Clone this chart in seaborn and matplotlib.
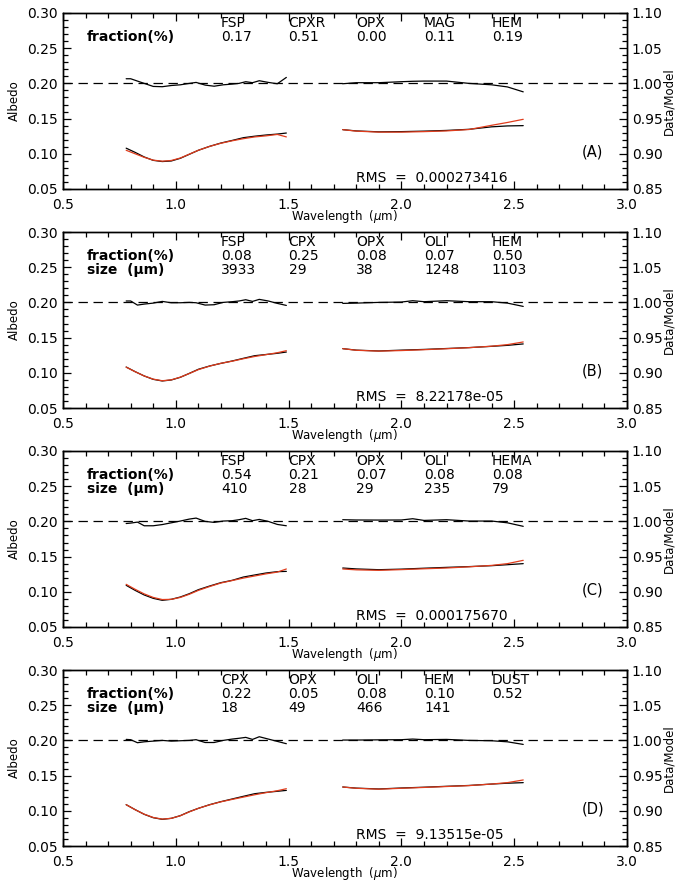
import pandas as pd
import seaborn as sns
import matplotlib.pyplot as plt
from matplotlib.ticker import MultipleLocator, FormatStrFormatter

# wavelength grids (um)
wl_vis = [0.78, 0.82, 0.86, 0.90, 0.94, 0.98, 1.02, 1.06, 1.10, 1.15,
          1.20, 1.25, 1.30, 1.35, 1.40, 1.45, 1.49]
wl_nir = [1.74, 1.80, 1.90, 2.00, 2.10, 2.20, 2.30, 2.40, 2.47, 2.54]
ratio_wl_vis = [0.78, 0.80, 0.83, 0.86, 0.90, 0.94, 0.98, 1.02, 1.06, 1.09, 1.13,
                1.17, 1.21, 1.25, 1.28, 1.31, 1.34, 1.37, 1.41, 1.45, 1.49]
ratio_wl_nir = [1.74, 1.80, 1.90, 2.00, 2.05, 2.10, 2.20, 2.30, 2.40, 2.47, 2.54]

# panel A
A_obs_vis = [0.108, 0.102, 0.0955, 0.0907, 0.089, 0.0898, 0.0936, 0.0993, 0.105, 0.1106,
             0.1153, 0.119, 0.1229, 0.125, 0.1267, 0.128, 0.1295]
A_mod_vis = [0.105, 0.100, 0.095, 0.091, 0.0895, 0.0905, 0.094, 0.0995, 0.105, 0.1105,
             0.115, 0.1185, 0.1215, 0.124, 0.1255, 0.1275, 0.124]
A_obs_nir = [0.1343, 0.1325, 0.1312, 0.1315, 0.1322, 0.1332, 0.1348, 0.1383, 0.1396, 0.1400]
A_mod_nir = [0.1343, 0.1322, 0.1308, 0.1308, 0.1315, 0.1325, 0.1345, 0.1405, 0.1445, 0.149]
A_ratio_vis = [1.0066, 1.0066, 1.0033, 1.0, 0.9957, 0.9953, 0.997, 0.998, 1.0, 1.0014, 0.9976,
               0.996, 0.998, 0.999, 1.0, 1.0024, 1.001, 1.0038, 1.0014, 0.9995, 1.0085]
A_ratio_nir = [0.9995, 1.001, 1.001, 1.0024, 1.003, 1.0033, 1.0033, 1.0, 0.998, 0.995, 0.988]

# panel B
B_obs_vis = [0.1082, 0.1016, 0.0955, 0.0907, 0.0884, 0.0898, 0.0936, 0.0992, 0.105, 0.1097,
             0.1134, 0.1168, 0.1206, 0.1243, 0.126, 0.1277, 0.1295]
B_mod_vis = [0.108, 0.1015, 0.0955, 0.091, 0.0887, 0.09, 0.0938, 0.099, 0.1045, 0.1095,
             0.1135, 0.1165, 0.12, 0.1232, 0.1258, 0.1285, 0.1314]
B_obs_nir = [0.1343, 0.1322, 0.131, 0.1322, 0.1332, 0.1345, 0.1358, 0.1376, 0.139, 0.141]
B_mod_nir = [0.1343, 0.132, 0.1308, 0.1316, 0.1328, 0.1342, 0.1357, 0.1378, 0.140, 0.1438]
B_ratio_vis = [1.002, 1.002, 0.9962, 0.9976, 0.999, 1.0014, 0.9995, 0.9995, 1.0, 0.9995, 0.9962,
               0.9967, 1.0, 1.001, 1.002, 1.0038, 1.0014, 1.0043, 1.002, 0.9986, 0.9957]
B_ratio_nir = [0.9986, 0.999, 1.0, 1.0005, 1.0024, 1.001, 1.0024, 1.001, 1.001, 0.999, 0.9943]

# panel C
C_obs_vis = [0.1092, 0.102, 0.0955, 0.0907, 0.0879, 0.0893, 0.0926, 0.0973, 0.103, 0.1082,
             0.113, 0.1163, 0.121, 0.1239, 0.1267, 0.1286, 0.129]
C_mod_vis = [0.1106, 0.1035, 0.097, 0.092, 0.089, 0.0893, 0.092, 0.0965, 0.102, 0.1075,
             0.1125, 0.116, 0.1195, 0.1225, 0.1255, 0.128, 0.1324]
C_obs_nir = [0.1338, 0.1325, 0.1314, 0.1322, 0.1335, 0.1347, 0.1358, 0.1371, 0.1385, 0.140]
C_mod_nir = [0.1324, 0.1312, 0.1305, 0.1315, 0.1327, 0.1338, 0.1355, 0.1375, 0.140, 0.1447]
C_ratio_vis = [0.997, 0.9976, 0.999, 0.9938, 0.9938, 0.9955, 0.998, 1.0005, 1.0033, 1.0047, 1.0,
               0.9986, 1.0005, 1.001, 1.0024, 1.0043, 1.001, 1.0028, 1.0, 0.9957, 0.9938]
C_ratio_nir = [1.0024, 1.002, 1.0019, 1.002, 1.0038, 1.0014, 1.0024, 1.0005, 1.0005, 0.998, 0.993]

# panel D
D_obs_vis = [0.1087, 0.1016, 0.095, 0.0902, 0.0879, 0.0893, 0.0931, 0.0988, 0.1035, 0.1087,
             0.113, 0.1168, 0.1206, 0.1243, 0.1262, 0.1277, 0.129]
D_mod_vis = [0.1087, 0.1015, 0.0952, 0.0905, 0.0882, 0.0893, 0.093, 0.0985, 0.1035, 0.1085,
             0.1128, 0.1162, 0.1195, 0.1228, 0.1258, 0.1285, 0.1314]
D_obs_nir = [0.1338, 0.1322, 0.131, 0.1324, 0.1335, 0.1348, 0.136, 0.138, 0.1392, 0.140]
D_mod_nir = [0.1338, 0.132, 0.1307, 0.132, 0.1332, 0.1345, 0.1358, 0.138, 0.140, 0.1438]
D_ratio_vis = [1.0014, 1.001, 0.9967, 0.998, 0.999, 1.0, 0.999, 0.9995, 1.0, 1.001, 0.997,
               0.997, 1.0, 1.0019, 1.003, 1.0043, 1.0014, 1.0052, 1.0019, 0.9986, 0.9953]
D_ratio_nir = [1.0005, 1.0005, 1.0008, 1.001, 1.0019, 1.001, 1.0014, 1.0, 0.9995, 0.998, 0.9943]

# fit annotations
A_minerals = ["FSP", "CPXR", "OPX", "MAG", "HEM"]
A_fractions = ["0.17", "0.51", "0.00", "0.11", "0.19"]
A_sizes = None
B_minerals = ["FSP", "CPX", "OPX", "OLI", "HEM"]
B_fractions = ["0.08", "0.25", "0.08", "0.07", "0.50"]
B_sizes = ["3933", "29", "38", "1248", "1103"]
C_minerals = ["FSP", "CPX", "OPX", "OLI", "HEMA"]
C_fractions = ["0.54", "0.21", "0.07", "0.08", "0.08"]
C_sizes = ["410", "28", "29", "235", "79"]
D_minerals = ["CPX", "OPX", "OLI", "HEM", "DUST"]
D_fractions = ["0.22", "0.05", "0.08", "0.10", "0.52"]
D_sizes = ["18", "49", "466", "141", ""]
rms_values = ["0.000273416", "8.22178e-05", "0.000175670", "9.13515e-05"]
panel_tags = ["(A)", "(B)", "(C)", "(D)"]

panels = [
    (A_obs_vis, A_mod_vis, A_obs_nir, A_mod_nir, A_ratio_vis, A_ratio_nir, A_minerals, A_fractions, A_sizes),
    (B_obs_vis, B_mod_vis, B_obs_nir, B_mod_nir, B_ratio_vis, B_ratio_nir, B_minerals, B_fractions, B_sizes),
    (C_obs_vis, C_mod_vis, C_obs_nir, C_mod_nir, C_ratio_vis, C_ratio_nir, C_minerals, C_fractions, C_sizes),
    (D_obs_vis, D_mod_vis, D_obs_nir, D_mod_nir, D_ratio_vis, D_ratio_nir, D_minerals, D_fractions, D_sizes),
]

sns.set_style("ticks")
plt.rcParams['font.family'] = ['DejaVu Sans']
plt.rcParams['mathtext.fontset'] = 'dejavusans'
plt.rcParams['text.color'] = 'black'
plt.rcParams['axes.labelcolor'] = 'black'
plt.rcParams['axes.edgecolor'] = 'black'
plt.rcParams['axes.axisbelow'] = False

RED = '#e03c1c'
W, H = 675, 883
fig = plt.figure(figsize=(W / 100, H / 100), dpi=100)

col_x = [1.2, 1.5, 1.8, 2.1, 2.4]
bottoms_px = [189, 408, 627, 846]

for i, (obs_v, mod_v, obs_n, mod_n, rat_v, rat_n, minerals, fracs, sizes) in enumerate(panels):
    ax = fig.add_axes([63 / W, 1 - bottoms_px[i] / H, 564 / W, 176 / H])
    ax2 = ax.twinx()

    sns.lineplot(x=wl_vis, y=obs_v, ax=ax, color='black', lw=0.9)
    sns.lineplot(x=wl_vis, y=mod_v, ax=ax, color=RED, lw=0.9)
    sns.lineplot(x=wl_nir, y=obs_n, ax=ax, color='black', lw=0.9)
    sns.lineplot(x=wl_nir, y=mod_n, ax=ax, color=RED, lw=0.9)
    sns.lineplot(x=ratio_wl_vis, y=rat_v, ax=ax2, color='black', lw=0.9)
    sns.lineplot(x=ratio_wl_nir, y=rat_n, ax=ax2, color='black', lw=0.9)
    ax.axhline(0.20, color='black', lw=0.9, dashes=(7.5, 4.5))

    ax.set_xlim(0.5, 3.0)
    ax.set_ylim(0.05, 0.30)
    ax2.set_ylim(0.85, 1.10)

    ax.xaxis.set_major_locator(MultipleLocator(0.5))
    ax.xaxis.set_minor_locator(MultipleLocator(0.1))
    ax.xaxis.set_major_formatter(FormatStrFormatter('%.1f'))
    for a in (ax, ax2):
        a.yaxis.set_major_locator(MultipleLocator(0.05))
        a.yaxis.set_minor_locator(MultipleLocator(0.01))
        a.yaxis.set_major_formatter(FormatStrFormatter('%.2f'))

    ax.tick_params(axis='x', which='both', direction='in', top=True, bottom=True,
                   labelsize=10, pad=6.5, color='black', labelcolor='black')
    ax.tick_params(axis='y', which='both', direction='in', left=True, right=False,
                   labelsize=10, pad=3.5, color='black', labelcolor='black')
    ax2.tick_params(axis='y', which='both', direction='in', left=False, right=True,
                    labelsize=10, pad=3.5, color='black', labelcolor='black')
    ax.tick_params(axis='both', which='major', length=6, width=0.9)
    ax.tick_params(axis='both', which='minor', length=3.5, width=0.9)
    ax2.tick_params(axis='y', which='major', length=6, width=0.9)
    ax2.tick_params(axis='y', which='minor', length=3.5, width=0.9)
    for a in (ax, ax2):
        for s in a.spines.values():
            s.set_color('black')
            s.set_linewidth(1.0)

    ax.set_xlabel('Wavelength  ($\\mu$m)', fontsize=8.5)
    ax.xaxis.set_label_coords(0.5, -0.11)
    ax.set_ylabel('Albedo', fontsize=8.5)
    ax.yaxis.set_label_coords(-0.075, 0.5)
    ax2.set_ylabel('Data/Model', fontsize=8.5)
    ax2.yaxis.set_label_coords(1.063, 0.5)

    # composition table
    ax.text(0.605, 0.2666, 'fraction(%)', fontsize=10, fontweight='bold', va='center')
    if sizes is not None:
        ax.text(0.605, 0.2467, 'size  (μm)', fontsize=10, fontweight='bold', va='center')
    for j, x in enumerate(col_x):
        ax.text(x, 0.2865, minerals[j], fontsize=10, va='center')
        ax.text(x, 0.2666, fracs[j], fontsize=10, va='center')
        if sizes is not None:
            ax.text(x, 0.2467, sizes[j], fontsize=10, va='center')

    ax.text(1.8, 0.0656, 'RMS  =  ' + rms_values[i], fontsize=10, va='center')
    ax.text(2.8, 0.102, panel_tags[i], fontsize=10.5, va='center')

fig.savefig('out.png', dpi=100)
